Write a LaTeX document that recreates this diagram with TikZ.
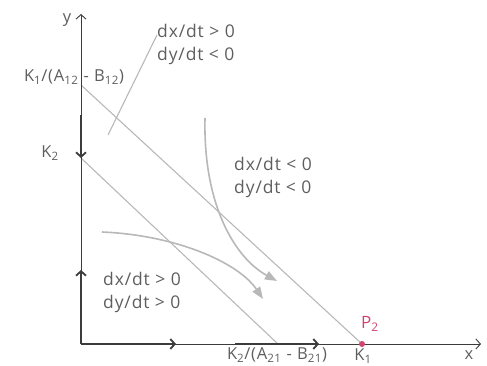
\documentclass[tikz,border=0pt]{standalone}
\usepackage{fontspec}
\setmainfont{Open Sans}
\usetikzlibrary{arrows.meta}
\definecolor{txt}{HTML}{5E5E5E}
\definecolor{ln}{HTML}{B8B8B8}
\definecolor{ax}{HTML}{3C3C3C}
\definecolor{pk}{HTML}{D2446E}
\begin{document}
\begin{tikzpicture}[x=1pt,y=-1pt,
  lbl/.style={text=txt,font=\fontsize{16.5}{20}\selectfont\addfontfeatures{LetterSpace=5},inner sep=0pt},
  big/.style={text=txt,font=\fontsize{17.5}{23}\selectfont\addfontfeatures{LetterSpace=5},inner sep=0pt,align=left,anchor=west},
  axisline/.style={draw=ax,line width=0.9pt,-{Straight Barb[length=4.5pt,width=10pt]}},
  flow/.style={draw=ax,line width=1.8pt,-{Straight Barb[length=4.5pt,width=10pt]}},
  iso/.style={draw=ln,line width=1.1pt},
  traj/.style={draw=ln,line width=1.6pt,-{Triangle[length=12pt,width=9pt]}}]
\useasboundingbox (0,0) rectangle (487,366);
\coordinate (O) at (81,344);
\coordinate (Y) at (81,14);
\coordinate (X) at (481,344);
\coordinate (A) at (81,85);
\coordinate (B) at (81,158);
\coordinate (C) at (278,344);
\coordinate (D) at (362,344);
\coordinate (f1s) at (81,115);
\coordinate (f2e) at (81,270);
\coordinate (f3e) at (176,344);
\coordinate (f4s) at (235,344);
\coordinate (f4e) at (319,344);
\coordinate (p1) at (108,135);
\coordinate (p2) at (157,35);
\coordinate (c1s) at (205,118);
\coordinate (c1e) at (277,281);
\coordinate (c2s) at (102,232);
\coordinate (c2e) at (263,299);
% isoclines
\draw[iso] (A) -- (D);
\draw[iso] (B) -- (C);
\draw[iso] (p1) -- (p2);
% trajectories
\draw[traj] (c1s) .. controls (203,205) and (235,258) .. (c1e);
\draw[traj] (c2s) .. controls (175,235) and (238,262) .. (c2e);
% axes
\draw[axisline] (O) -- (Y);
\draw[axisline] (O) -- (X);
\draw[flow] (f1s) -- (B);
\draw[flow] (O) -- (f2e);
\draw[flow] (O) -- (f3e);
\draw[flow] (f4s) -- (f4e);
% point P2
\fill[pk] (D) circle (3pt);
% labels
\node[lbl] (ly) at (67,20) {y};
\node[lbl] (lx) at (469,355) {x};
\node[lbl] (lA) at (74,77) {K\textsubscript{1}/(A\textsubscript{12} - B\textsubscript{12})};
\node[lbl] (lB) at (50,153) {K\textsubscript{2}};
\node[lbl] (lC) at (277,355) {K\textsubscript{2}/(A\textsubscript{21} - B\textsubscript{21})};
\node[lbl] (lD) at (363,356) {K\textsubscript{1}};
\node[lbl,text=pk,font=\fontsize{17}{20}\selectfont] (lP) at (370,324) {P\textsubscript{2}};
\node[big] (t1) at (157,44) {dx/dt > 0\\dy/dt < 0};
\node[big] (t2) at (234,177) {dx/dt < 0\\dy/dt < 0};
\node[big] (t3) at (103,292) {dx/dt > 0\\dy/dt > 0};
\end{tikzpicture}
\end{document}
